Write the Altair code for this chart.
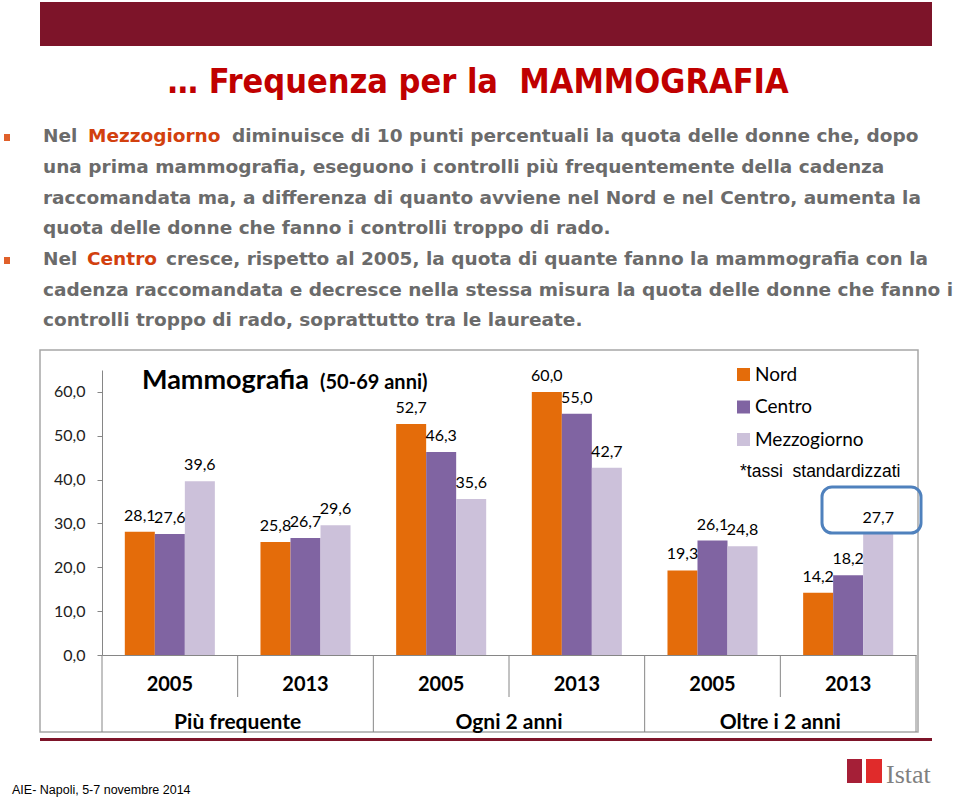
import altair as alt
import pandas as pd

# ---------------- data ----------------
groups = ["Più frequente", "Più frequente", "Ogni 2 anni", "Ogni 2 anni", "Oltre i 2 anni", "Oltre i 2 anni"]
years = ["2005", "2013", "2005", "2013", "2005", "2013"]
nord = [28.1, 25.8, 52.7, 60.0, 19.3, 14.2]
centro = [27.6, 26.7, 46.3, 55.0, 26.1, 18.2]
mezzogiorno = [39.6, 29.6, 35.6, 42.7, 24.8, 27.7]
series = ["Nord", "Centro", "Mezzogiorno"]
colors = ["#E46C0A", "#8064A2", "#CCC1DA"]
y_ticks = [0, 10, 20, 30, 40, 50, 60]
group_names = ["Più frequente", "Ogni 2 anni", "Oltre i 2 anni"]

slide_title = "… Frequenza per la\u00a0 MAMMOGRAFIA"
line1 = ["Nel", "Mezzogiorno", "diminuisce di 10 punti percentuali la quota delle donne che, dopo"]
line2 = "una prima mammografia, eseguono i controlli più frequentemente della cadenza"
line3 = "raccomandata ma, a differenza di quanto avviene nel Nord e nel Centro, aumenta la"
line4 = "quota delle donne che fanno i controlli troppo di rado."
line5 = ["Nel", "Centro", "cresce, rispetto al 2005, la quota di quante fanno la mammografia con la"]
line6 = "cadenza raccomandata e decresce nella stessa misura la quota delle donne che fanno i"
line7 = "controlli troppo di rado, soprattutto tra le laureate."
note = "*tassi\u00a0 standardizzati"
footer = "AIE- Napoli, 5-7 novembre 2014"

cat_order = [f"{g}|{y}" for g, y in zip(groups, years)]
rows = []
for i, cat in enumerate(cat_order):
    for s, vals in zip(series, [nord, centro, mezzogiorno]):
        v = vals[i]
        rows.append({"cat": cat, "serie": s, "value": v,
                     "label": f"{v:.1f}".replace(".", ",")})
df = pd.DataFrame(rows)

# plot origin in page pixels
OX, OY = 102, 370
W, H = 814, 285
one = pd.DataFrame({"k": [0]})

GRAY_TXT = "#6B6B6B"
ORANGE_TXT = "#D2400E"
BODY = 18.5


def txt(text, x, y, size, color="#000000", font="Lato", weight="normal", align="left"):
    return alt.Chart(one).mark_text(
        text=text, font=font, fontSize=size, fontWeight=weight, color=color,
        align=align, baseline="alphabetic"
    ).encode(x=alt.value(x - OX), y=alt.value(y - OY))


def box(x1, y1, x2, y2, **kw):
    return alt.Chart(one).mark_rect(**kw).encode(
        x=alt.value(x1 - OX), x2=alt.value(x2 - OX),
        y=alt.value(y1 - OY), y2=alt.value(y2 - OY))


xscale = alt.Scale(paddingInner=0, paddingOuter=0)
xoff = alt.XOffset("serie:N", sort=series, scale=alt.Scale(paddingInner=0, paddingOuter=0.76))

base = alt.Chart(df)

bars = base.mark_bar().encode(
    x=alt.X("cat:N", sort=cat_order, scale=xscale,
            axis=alt.Axis(title=None, labelExpr="split(datum.label, '|')[1]",
                          labelAngle=0, ticks=False, labelPadding=19,
                          labelFont="Lato", labelFontSize=20, labelFontWeight="bold",
                          labelColor="#000000", domainColor="#868686")),
    xOffset=xoff,
    y=alt.Y("value:Q", scale=alt.Scale(domain=[0, 65], nice=False),
            axis=alt.Axis(title=None, values=y_ticks, grid=False, tickSize=5,
                          labelExpr="replace(format(datum.value, '.1f'), '.', ',')",
                          labelFont="Lato", labelFontSize=16, labelColor="#222222",
                          labelPadding=12, domainColor="#868686", tickColor="#868686")),
    color=alt.Color("serie:N", sort=series,
                    scale=alt.Scale(domain=series, range=colors),
                    legend=alt.Legend(title=None, orient="none", legendX=632, legendY=-5,
                                      symbolType="square", symbolSize=169,
                                      symbolStrokeWidth=0, labelFont="Lato",
                                      labelFontSize=19, labelColor="#000000",
                                      labelOffset=2, rowPadding=12.5, padding=0)),
)

labels = base.mark_text(baseline="alphabetic", dy=-11, font="Lato", fontSize=16,
                        color="#000000").encode(
    x=alt.X("cat:N", sort=cat_order, scale=xscale),
    xOffset=xoff,
    y=alt.Y("value:Q"),
    text="label:N",
)

sep_short = pd.DataFrame({"cat": [c for c in cat_order if c.endswith("2013")]})
sep_long = pd.DataFrame({"cat": [c for c in cat_order if c.endswith("2005")]})

rule_short = alt.Chart(sep_short).mark_rule(color="#868686").encode(
    x=alt.X("cat:N", sort=cat_order, scale=xscale, bandPosition=0),
    y=alt.value(H), y2=alt.value(697 - OY))
rule_long = alt.Chart(sep_long).mark_rule(color="#868686").encode(
    x=alt.X("cat:N", sort=cat_order, scale=xscale, bandPosition=0),
    y=alt.value(H), y2=alt.value(732 - OY))
rule_end = alt.Chart(pd.DataFrame({"cat": [cat_order[-1]]})).mark_rule(color="#868686").encode(
    x=alt.X("cat:N", sort=cat_order, scale=xscale, bandPosition=1),
    y=alt.value(H), y2=alt.value(732 - OY))

grp_df = pd.DataFrame({"cat": [f"{g}|2013" for g in group_names], "g": group_names})
grp_labels = alt.Chart(grp_df).mark_text(font="Lato", fontSize=21, fontWeight="bold",
                                         color="#000000", baseline="alphabetic").encode(
    x=alt.X("cat:N", sort=cat_order, scale=xscale, bandPosition=0),
    y=alt.value(729 - OY), text="g:N")

layers = [
    # slide decorations
    box(40, 2, 932, 46, color="#7D1429"),
    txt(slide_title, 478, 93, 34, color="#C00000", font="DejaVu Sans Condensed",
        weight="bold", align="center"),
    box(4, 134, 10, 141, color="#E0602A"),
    box(4, 257, 10, 264, color="#E0602A"),
    txt(line1[0], 43, 142, BODY, GRAY_TXT, "DejaVu Sans", "bold"),
    txt(line1[1], 88, 142, BODY, ORANGE_TXT, "DejaVu Sans", "bold"),
    txt(line1[2], 232, 142, BODY, GRAY_TXT, "DejaVu Sans", "bold"),
    txt(line2, 43, 173, BODY, GRAY_TXT, "DejaVu Sans", "bold"),
    txt(line3, 43, 204, BODY, GRAY_TXT, "DejaVu Sans", "bold"),
    txt(line4, 43, 234, BODY, GRAY_TXT, "DejaVu Sans", "bold"),
    txt(line5[0], 43, 265, BODY, GRAY_TXT, "DejaVu Sans", "bold"),
    txt(line5[1], 87, 265, BODY, ORANGE_TXT, "DejaVu Sans", "bold"),
    txt(line5[2], 166, 265, BODY, GRAY_TXT, "DejaVu Sans", "bold"),
    txt(line6, 43, 296, BODY, GRAY_TXT, "DejaVu Sans", "bold"),
    txt(line7, 43, 326, BODY, GRAY_TXT, "DejaVu Sans", "bold"),
    # chart frame
    box(40, 350, 918, 732, fillOpacity=0, stroke="#A6A6A6", strokeWidth=1.5),
    bars,
    labels,
    rule_short, rule_long, rule_end,
    grp_labels,
    txt("Mammografia", 142, 389, 27, weight="bold"),
    txt("(50-69 anni)", 320, 389, 20, weight="bold"),
    txt(note, 740, 477, 17.5, font="Liberation Sans"),
    box(822, 487, 921, 533, fillOpacity=0, stroke="#4F81BD", strokeWidth=3, cornerRadius=10),
    # footer
    box(40, 738, 932, 741, color="#7D1429"),
    box(847, 759, 862, 783, color="#A51F37"),
    box(866, 759, 882, 783, color="#E02B2B"),
    txt("Istat", 886, 783, 26, color="#808080", font="Liberation Serif"),
    txt(footer, 12, 794, 12.5, color="#000000", font="Liberation Sans"),
]

chart = alt.layer(*layers).properties(
    width=W, height=H,
    autosize=alt.AutoSizeParams(type="none"),
    padding={"left": OX, "top": OY, "right": 960 - OX - W, "bottom": 802 - OY - H},
    background="white",
).configure_view(stroke=None)

chart.save("out.html", embed_options={"renderer": "svg", "actions": False})
